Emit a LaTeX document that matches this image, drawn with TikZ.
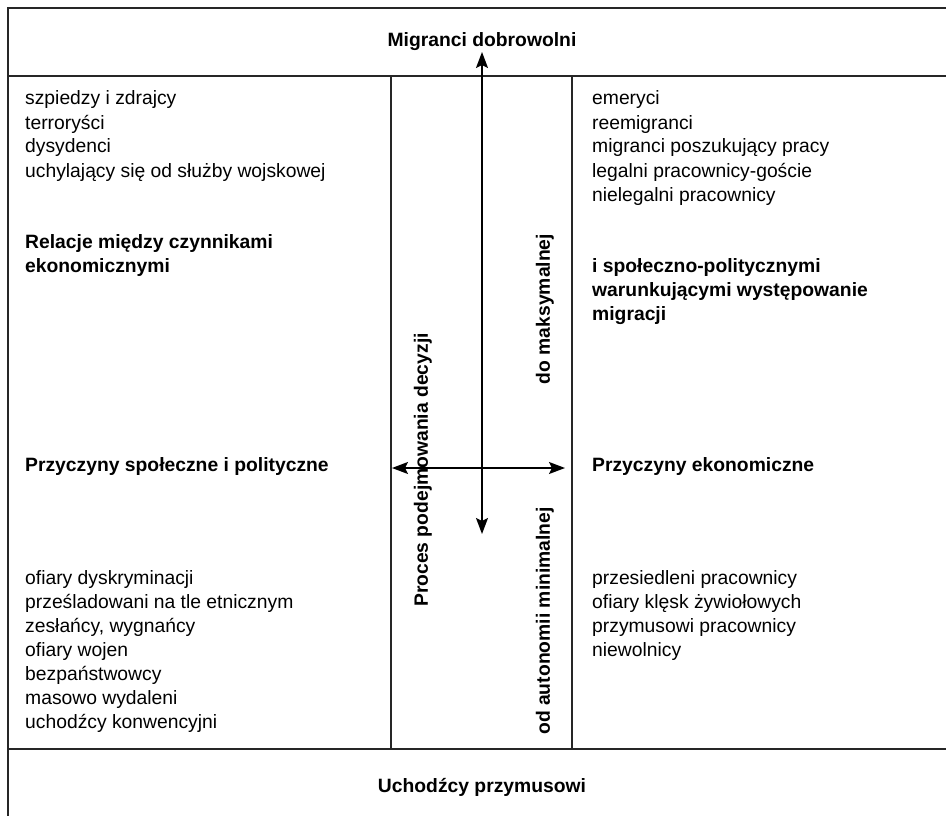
\documentclass[tikz,border=0pt]{standalone}
\usepackage{fontspec}
\setmainfont{Liberation Sans}
\usetikzlibrary{arrows.meta}
\begin{document}
\begin{tikzpicture}[x=1pt,y=-1pt,
  frame/.style={line width=1.3pt,draw=black!85},
  tip/.tip={Stealth[length=16pt,width=12pt,inset=3pt]},
  biarrow/.style={line width=1.4pt,tip-tip},
  item/.style={anchor=base west,inner sep=0pt,font=\fontsize{19.3}{22}\selectfont},
  head/.style={anchor=base west,inner sep=0pt,font=\fontsize{19.3}{22}\selectfont\bfseries},
  title/.style={anchor=base,inner sep=0pt,font=\fontsize{19.3}{22}\selectfont\bfseries},
  side/.style={rotate=90,inner sep=0pt,font=\fontsize{19.3}{22}\selectfont\bfseries}]
\useasboundingbox (0,0) rectangle (946,816);

% frame and grid
\draw[frame] (946,8) -- (8,8) -- (8,816);
\draw[frame] (8,76) -- (946,76);
\draw[frame] (8,749) -- (946,749);
\draw[frame] (391,76) -- (391,749);
\draw[frame] (572,76) -- (572,749);

% titles
\node[title] (top) at (482,47) {Migranci dobrowolni};
\node[title] (bottom) at (482,792) {Uchodźcy przymusowi};

% left column
\foreach \t [count=\i] in {szpiedzy i zdrajcy,terroryści,dysydenci,uchylający się od służby wojskowej}
  \node[item] (lt\i) at (25,{105+24*(\i-1)}) {\t};
\node[head] (lh1) at (25,248) {Relacje między czynnikami};
\node[head] (lh2) at (25,272) {ekonomicznymi};
\node[head] (lc) at (25,471) {Przyczyny społeczne i polityczne};
\foreach \t [count=\i] in {ofiary dyskryminacji,prześladowani na tle etnicznym,{zesłańcy, wygnańcy},ofiary wojen,bezpaństwowcy,masowo wydaleni,uchodźcy konwencyjni}
  \node[item] (lb\i) at (25,{584+24*(\i-1)}) {\t};

% right column
\foreach \t [count=\i] in {emeryci,reemigranci,migranci poszukujący pracy,legalni pracownicy-goście,nielegalni pracownicy}
  \node[item] (rt\i) at (592,{105+24*(\i-1)}) {\t};
\node[head] (rh1) at (592,272) {i społeczno-politycznymi};
\node[head] (rh2) at (592,296) {warunkującymi występowanie};
\node[head] (rh3) at (592,320) {migracji};
\node[head] (rc) at (592,471) {Przyczyny ekonomiczne};
\foreach \t [count=\i] in {przesiedleni pracownicy,ofiary klęsk żywiołowych,przymusowi pracownicy,niewolnicy}
  \node[item] (rb\i) at (592,{584+24*(\i-1)}) {\t};

% middle column labels
\node[side] (proc) at (423,470) {Proces podejmowania decyzji};
\node[side] (max) at (545,309) {do maksymalnej};
\node[side] (min) at (545,621) {od autonomii minimalnej};

% axes
\coordinate (vtop) at (482,52);
\coordinate (vbot) at (482,534);
\coordinate (hl) at (392,468);
\coordinate (hr) at (565,468);
\draw[biarrow] (vbot) -- (vtop);
\draw[biarrow] (hl) -- (hr);
\end{tikzpicture}
\end{document}
